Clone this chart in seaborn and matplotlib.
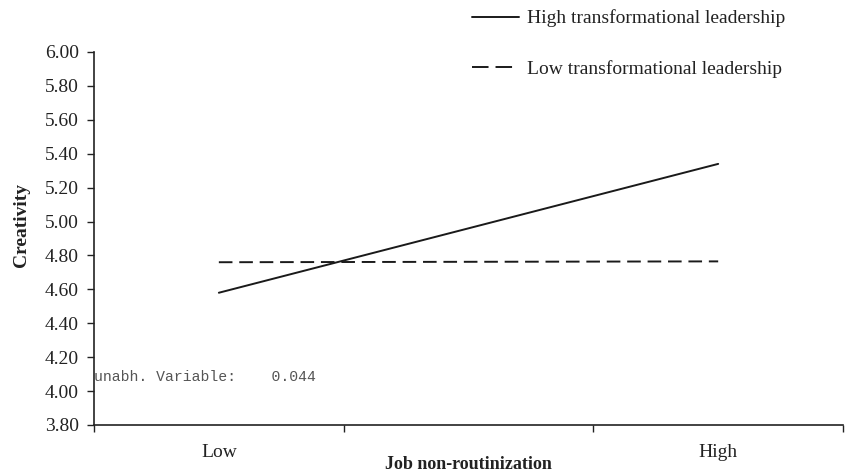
import matplotlib
matplotlib.use("Agg")
import matplotlib.pyplot as plt
from matplotlib.lines import Line2D
import seaborn as sns
import pandas as pd

categories = ["Low", "", "High"]
groups = ["High transformational leadership", "Low transformational leadership"]
high_tl = [4.58, 5.34]
low_tl = [4.76, 4.765]
yticks = [3.80, 4.00, 4.20, 4.40, 4.60, 4.80, 5.00, 5.20, 5.40, 5.60, 5.80, 6.00]
annotation = "unabh. Variable:    0.044"

sns.set_theme(style="white")
plt.rcParams['font.family'] = ['Liberation Serif', 'DejaVu Serif']

xpos = {c: i + 0.5 for i, c in enumerate(categories)}
df = pd.DataFrame({
    "x": [xpos["Low"], xpos["High"]] * 2,
    "y": high_tl + low_tl,
    "group": [groups[0]] * 2 + [groups[1]] * 2,
})

fig = plt.figure(figsize=(8.47, 4.74), dpi=100)
ax = fig.add_axes([0.111, 0.1034, 0.8843, 0.7869])

sns.lineplot(data=df, x="x", y="y", hue="group", style="group",
             palette=["#1a1a1a", "#1a1a1a"],
             dashes={groups[0]: "", groups[1]: (7, 3.5)},
             linewidth=1.4, ax=ax, legend=False)

ax.set_xlim(0, 3)
ax.set_ylim(3.80, 6.00)
ax.set_yticks(yticks)
ax.set_yticklabels([f"{v:.2f}" for v in yticks], fontsize=14, color="#222222")
ax.set_xticks([0, 1, 2, 3])
ax.set_xticklabels([])
ax.set_xticks([xpos[c] for c in categories], minor=True)
ax.set_xticklabels(categories, minor=True, fontsize=14, color="#222222")
ax.tick_params(axis="x", which="minor", length=0, pad=14)
ax.tick_params(axis="x", which="major", direction="out", length=5, width=1, color="#222222", bottom=True)
ax.tick_params(axis="y", direction="out", length=5, width=1, color="#222222", left=True, pad=6)

for s in ["top", "right"]:
    ax.spines[s].set_visible(False)
for s in ["left", "bottom"]:
    ax.spines[s].set_color("#222222")
    ax.spines[s].set_linewidth(1.2)

ax.set_xlabel("Job non-routinization", fontsize=13, fontweight="bold", color="#222222")
ax.set_ylabel("Creativity", fontsize=14, fontweight="bold", color="#222222")
ax.xaxis.set_label_coords(0.5, -0.1046)
ax.yaxis.set_label_coords(-0.097, 0.535)
ax.xaxis.label.set_va("center")
ax.yaxis.label.set_va("center")

ax.text(0.0, 4.083, annotation, fontsize=10.6, family=["Liberation Mono", "DejaVu Sans Mono"],
        color="#555555", ha="left", va="center")

handles = [Line2D([], [], color="#1a1a1a", lw=1.4),
           Line2D([], [], color="#1a1a1a", lw=1.4, dashes=(8.5, 3.6))]
fig.legend(handles, groups, loc="upper left", bbox_to_anchor=(0.537, 1.017),
           frameon=False, fontsize=14, handlelength=2.4, handletextpad=0.4,
           labelspacing=1.7, labelcolor="#222222")

fig.savefig("out.png", dpi=100)
